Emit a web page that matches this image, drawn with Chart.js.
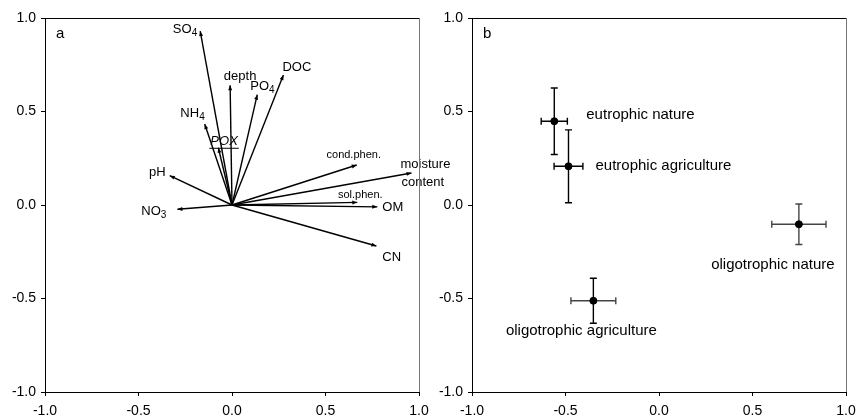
<!DOCTYPE html>
<html>
<head>
<meta charset="utf-8">
<script src="https://cdn.jsdelivr.net/npm/chart.js@4"></script>
<style>
  body { margin: 0; background: #fff; }
  #wrap { position: relative; width: 858px; height: 419px; }
  #wrap canvas { position: absolute; left: 0; top: 0; }
</style>
</head>
<body>
<div id="wrap">
  <canvas id="chartA" width="858" height="419"></canvas>
  <canvas id="chartB" width="858" height="419"></canvas>
</div>
<script>
// Panel a: variable loadings (arrow tips)
const variables = ["SO4", "depth", "PO4", "DOC", "NH4", "POX", "pH", "cond.phen.", "moisture content", "sol.phen.", "OM", "NO3", "CN"];
const axis1 = [-0.17, -0.01, 0.135, 0.275, -0.146, -0.073, -0.333, 0.667, 0.96, 0.67, 0.777, -0.292, 0.772];
const axis2 = [0.93, 0.64, 0.59, 0.695, 0.433, 0.306, 0.157, 0.214, 0.171, 0.014, -0.01, -0.023, -0.219];

// Panel b: group scores with standard errors
const groups = ["eutrophic nature", "eutrophic agriculture", "oligotrophic nature", "oligotrophic agriculture"];
const groupX = [-0.56, -0.484, 0.748, -0.351];
const groupY = [0.448, 0.207, -0.103, -0.512];
const groupXErr = [0.07, 0.077, 0.145, 0.12];
const groupYErr = [0.178, 0.195, 0.108, 0.12];

const tickValues = [-1.0, -0.5, 0.0, 0.5, 1.0];

const FONT = "'Liberation Sans', Arial, sans-serif";

// label placement: pixel offset from arrow tip, alignment, font size
const varLabelPos = {
  "SO4": [-3, -2, "right", 13],
  "depth": [10, -9, "center", 13],
  "PO4": [-7, -8, "left", 13],
  "DOC": [-1, -8, "left", 13],
  "NH4": [0, -11, "right", 13],
  "POX": [-8, -6, "left", 13, "italic"],
  "pH": [-4, -3, "right", 13],
  "cond.phen.": [-3, -10, "center", 11],
  "moisture content": [-11, -9, "left", 13, "wrap"],
  "sol.phen.": [3, -7, "center", 11],
  "OM": [5, 1, "left", 13],
  "NO3": [-11, 2, "right", 13],
  "CN": [6, 11, "left", 13]
};

const groupLabelPos = [
  [32, -6, "left"],
  [27, 0, "left"],
  [-26, 41, "center"],
  [-12, 30, "center"]
];

// draws text with a trailing digit as subscript
function drawLabel(ctx, text, x, y, align, size, style) {
  const m = text.match(/^(.*?)(\d)$/);
  const main = m ? m[1] : text;
  const sub = m ? m[2] : "";
  const italic = style === "italic";
  ctx.font = (italic ? "italic " : "") + size + "px " + FONT;
  const wMain = ctx.measureText(main).width;
  ctx.font = (size - 3) + "px " + FONT;
  const wSub = sub ? ctx.measureText(sub).width : 0;
  const total = wMain + wSub;
  let left = x;
  if (align === "right") left = x - total;
  if (align === "center") left = x - total / 2;
  ctx.textAlign = "left";
  ctx.textBaseline = "middle";
  ctx.font = (italic ? "italic " : "") + size + "px " + FONT;
  ctx.fillText(main, left, y);
  if (sub) {
    ctx.font = (size - 3) + "px " + FONT;
    ctx.fillText(sub, left + wMain, y + 4);
  }
  if (italic) {
    ctx.beginPath();
    ctx.moveTo(left - 1, y + 6.5);
    ctx.lineTo(left + total + 1, y + 6.5);
    ctx.lineWidth = 1;
    ctx.strokeStyle = "#000";
    ctx.stroke();
  }
}

const framePlugin = {
  id: "frame",
  afterDraw(chart, args, opts) {
    const { ctx, chartArea: a } = chart;
    ctx.save();
    ctx.lineWidth = 1;
    ctx.strokeStyle = "#000";
    ctx.beginPath();
    ctx.moveTo(a.left, Math.round(a.top) + 0.5);
    ctx.lineTo(a.right, Math.round(a.top) + 0.5);
    ctx.stroke();
    ctx.strokeStyle = "#777";
    ctx.beginPath();
    ctx.moveTo(Math.round(a.right) + 0.5, a.top);
    ctx.lineTo(Math.round(a.right) + 0.5, a.bottom);
    ctx.stroke();
    ctx.fillStyle = "#000";
    ctx.font = "15px " + FONT;
    ctx.textAlign = "left";
    ctx.textBaseline = "middle";
    ctx.fillText(opts.letter, a.left + 11, a.top + 16);
    ctx.restore();
  }
};

const arrowPlugin = {
  id: "arrows",
  afterDatasetsDraw(chart) {
    const { ctx, scales: { x, y } } = chart;
    const ox = x.getPixelForValue(0), oy = y.getPixelForValue(0);
    ctx.save();
    ctx.fillStyle = "#000";
    variables.forEach((name, i) => {
      const px = x.getPixelForValue(axis1[i]);
      const py = y.getPixelForValue(axis2[i]);
      const a = Math.atan2(py - oy, px - ox);
      const c = Math.cos(a), s = Math.sin(a);
      ctx.beginPath();
      ctx.moveTo(px, py);
      ctx.lineTo(px - 5 * c + 2 * s, py - 5 * s - 2 * c);
      ctx.lineTo(px - 5 * c - 2 * s, py - 5 * s + 2 * c);
      ctx.closePath();
      ctx.fill();
      const p = varLabelPos[name];
      if (p[4] === "wrap") {
        const parts = name.split(" ");
        drawLabel(ctx, parts[0], px + p[0], py + p[1], p[2], p[3]);
        drawLabel(ctx, parts[1], px + p[0] + 1, py + p[1] + 18, p[2], p[3]);
      } else {
        drawLabel(ctx, name, px + p[0], py + p[1], p[2], p[3], p[4]);
      }
    });
    ctx.restore();
  }
};

const errorPlugin = {
  id: "errorbars",
  beforeDatasetsDraw(chart) {
    const { ctx, scales: { x, y } } = chart;
    ctx.save();
    ctx.lineWidth = 1.4;
    groups.forEach((g, i) => {
      const cx = x.getPixelForValue(groupX[i]);
      const cy = y.getPixelForValue(groupY[i]);
      const x0 = x.getPixelForValue(groupX[i] - groupXErr[i]);
      const x1 = x.getPixelForValue(groupX[i] + groupXErr[i]);
      const y0 = y.getPixelForValue(groupY[i] - groupYErr[i]);
      const y1 = y.getPixelForValue(groupY[i] + groupYErr[i]);
      ctx.strokeStyle = i >= 2 ? "#444" : "#000";
      ctx.beginPath();
      ctx.moveTo(x0, cy); ctx.lineTo(x1, cy);
      ctx.moveTo(x0, cy - 3.5); ctx.lineTo(x0, cy + 3.5);
      ctx.moveTo(x1, cy - 3.5); ctx.lineTo(x1, cy + 3.5);
      ctx.stroke();
      ctx.strokeStyle = i === 2 ? "#444" : "#000";
      ctx.beginPath();
      ctx.moveTo(cx, y0); ctx.lineTo(cx, y1);
      ctx.moveTo(cx - 3.5, y0); ctx.lineTo(cx + 3.5, y0);
      ctx.moveTo(cx - 3.5, y1); ctx.lineTo(cx + 3.5, y1);
      ctx.stroke();
    });
    ctx.restore();
  },
  afterDatasetsDraw(chart) {
    const { ctx, scales: { x, y } } = chart;
    ctx.save();
    ctx.fillStyle = "#000";
    groups.forEach((g, i) => {
      const p = groupLabelPos[i];
      ctx.font = "15px " + FONT;
      ctx.textAlign = p[2];
      ctx.textBaseline = "middle";
      ctx.fillText(g, x.getPixelForValue(groupX[i]) + p[0], y.getPixelForValue(groupY[i]) + p[1]);
    });
    ctx.restore();
  }
};

function axisOptions(isY) {
  return {
    type: "linear",
    min: -1,
    max: 1,
    afterBuildTicks: (s) => { s.ticks = tickValues.map(v => ({ value: v })); },
    afterFit: (s) => {
      if (isY) {
        s.width = 45;
        s.paddingTop = 0; s.paddingBottom = 0;
      } else {
        s.height = 27;
        s.paddingLeft = 0; s.paddingRight = 0;
      }
    },
    grid: { drawOnChartArea: false, drawTicks: true, tickLength: 4, tickColor: "#000" },
    border: { display: true, color: "#000", width: 1 },
    ticks: {
      color: "#000",
      font: { family: FONT, size: 14 },
      padding: isY ? 5 : 7,
      callback: (v) => v.toFixed(1)
    }
  };
}

function baseOptions(padding, letter) {
  return {
    responsive: false,
    animation: false,
    layout: { padding },
    scales: { x: axisOptions(false), y: axisOptions(true) },
    plugins: {
      legend: { display: false },
      tooltip: { enabled: false },
      frame: { letter }
    }
  };
}

// Panel a
const arrowSets = variables.map((name, i) => ({
  label: name,
  data: [{ x: 0, y: 0 }, { x: axis1[i], y: axis2[i] }],
  showLine: true,
  borderColor: "#000",
  borderWidth: 1.4,
  pointRadius: 0
}));

new Chart(document.getElementById("chartA").getContext("2d"), {
  type: "scatter",
  data: { datasets: arrowSets },
  options: baseOptions({ left: 0, top: 18, right: 439, bottom: 0 }, "a"),
  plugins: [framePlugin, arrowPlugin]
});

// Panel b
new Chart(document.getElementById("chartB").getContext("2d"), {
  type: "scatter",
  data: {
    datasets: [{
      label: "groups",
      data: groupX.map((v, i) => ({ x: v, y: groupY[i] })),
      backgroundColor: "#000",
      borderColor: "#000",
      pointRadius: 3.5
    }]
  },
  options: baseOptions({ left: 427, top: 18, right: 12, bottom: 0 }, "b"),
  plugins: [framePlugin, errorPlugin]
});
</script>
</body>
</html>
